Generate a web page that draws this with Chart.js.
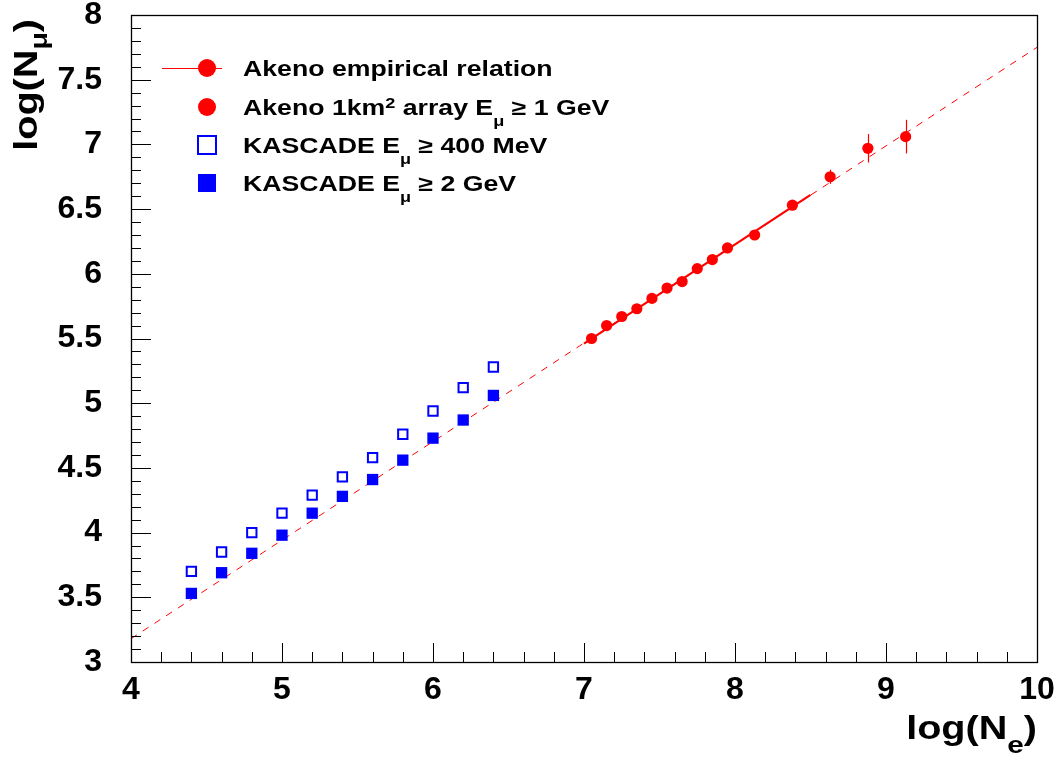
<!DOCTYPE html>
<html>
<head>
<meta charset="utf-8">
<script src="https://cdn.jsdelivr.net/npm/chart.js@4/dist/chart.umd.min.js"></script>
<style>
  html, body { margin: 0; padding: 0; background: #fff; }
</style>
</head>
<body>
<canvas id="muonChart" width="1059" height="761"></canvas>
<script>
// --- DATA ---
const fitLogNe = [4, 10];
const fitLogNmu = [3.18, 7.75];

const relLogNe = [7.0, 8.5];
const relLogNmu = [5.46, 6.61];

const akenoLogNe = [7.05, 7.15, 7.25, 7.35, 7.45, 7.55, 7.65, 7.75, 7.85, 7.95, 8.13, 8.38, 8.63, 8.88, 9.13];
const akenoLogNmu = [5.50, 5.60, 5.67, 5.73, 5.81, 5.89, 5.94, 6.04, 6.11, 6.20, 6.30, 6.53, 6.75, 6.97, 7.06];
const akenoErr = [0, 0, 0, 0, 0, 0, 0, 0, 0, 0, 0, 0, 0.055, 0.11, 0.13];

const kascadeLogNe = [4.4, 4.6, 4.8, 5.0, 5.2, 5.4, 5.6, 5.8, 6.0, 6.2, 6.4];
const kascade400MeV = [3.70, 3.85, 4.00, 4.15, 4.29, 4.43, 4.58, 4.76, 4.94, 5.12, 5.28];
const kascade2GeV = [3.53, 3.69, 3.84, 3.98, 4.15, 4.28, 4.41, 4.56, 4.73, 4.87, 5.06];

const legendRows = [
    [['Akeno empirical relation', '']],
    [['Akeno 1km', ''], ['2', 'sup'], [' array E', ''], ['\u03bc', 'sub'], [' \u2265 1 GeV', '']],
    [['KASCADE E', ''], ['\u03bc', 'sub'], [' \u2265 400 MeV', '']],
    [['KASCADE E', ''], ['\u03bc', 'sub'], [' \u2265 2 GeV', '']]
];
const xTitle = [['log(N', ''], ['e', 'sub'], [')', '']];
const yTitle = [['log(N', ''], ['\u03bc', 'sub'], [')', '']];

const RED = '#ff0000';
const BLUE = '#0000ff';
const FONT = '"Liberation Sans", Arial, Helvetica, sans-serif';

const zip = (xs, ys) => xs.map((x, i) => ({ x: x, y: ys[i] }));

// text with sub/superscripts, optionally stretched horizontally
function drawRich(ctx, parts, x, y, opt) {
    const size = opt.size;
    const items = parts.map(([t, k]) => {
        const s = k ? size * opt.small : size;
        ctx.font = 'bold ' + s + 'px ' + FONT;
        return { t: t, k: k, s: s, w: ctx.measureText(t).width };
    });
    const total = items.reduce((a, it) => a + it.w, 0);
    ctx.save();
    ctx.translate(x, y);
    ctx.scale(opt.stretch, 1);
    ctx.fillStyle = '#000';
    ctx.textBaseline = 'alphabetic';
    ctx.textAlign = 'left';
    let cx = opt.align === 'right' ? -total : 0;
    items.forEach(it => {
        ctx.font = 'bold ' + it.s + 'px ' + FONT;
        let dy = 0;
        if (it.k === 'sub') dy = opt.subDy;
        if (it.k === 'sup') dy = opt.supDy;
        ctx.fillText(it.t, cx, dy);
        cx += it.w;
    });
    ctx.restore();
}

const rootStyle = {
    id: 'rootStyle',
    afterDatasetsDraw(chart) {
        const ctx = chart.ctx;
        const xs = chart.scales.x, ys = chart.scales.y;
        ctx.save();
        ctx.strokeStyle = RED;
        ctx.lineWidth = 1.2;
        akenoLogNe.forEach((v, i) => {
            if (!akenoErr[i]) return;
            const px = Math.round(xs.getPixelForValue(v)) + 0.5;
            ctx.beginPath();
            ctx.moveTo(px, ys.getPixelForValue(akenoLogNmu[i] + akenoErr[i]));
            ctx.lineTo(px, ys.getPixelForValue(akenoLogNmu[i] - akenoErr[i]));
            ctx.stroke();
        });
        ctx.restore();
    },
    afterDraw(chart) {
        const ctx = chart.ctx;
        const a = chart.chartArea;
        const xs = chart.scales.x, ys = chart.scales.y;
        ctx.save();

        // frame
        ctx.strokeStyle = '#000';
        ctx.lineWidth = 1.3;
        ctx.strokeRect(Math.round(a.left) + 0.5, Math.round(a.top) + 0.5,
            Math.round(a.right - a.left), Math.round(a.bottom - a.top));

        // inward ticks
        ctx.lineWidth = 1;
        ctx.beginPath();
        for (let i = 0; i <= 30; i++) {
            const px = Math.round(xs.getPixelForValue(4 + i * 0.2)) + 0.5;
            const len = i % 5 === 0 ? 19 : 10;
            ctx.moveTo(px, a.bottom);
            ctx.lineTo(px, a.bottom - len);
        }
        for (let i = 0; i <= 50; i++) {
            const py = Math.round(ys.getPixelForValue(3 + i * 0.1)) + 0.5;
            const len = i % 5 === 0 ? 20 : 10;
            ctx.moveTo(a.left, py);
            ctx.lineTo(a.left + len, py);
        }
        ctx.stroke();

        // legend
        const rowY = [68, 107, 145, 183];
        const mx = 207;
        ctx.strokeStyle = RED;
        ctx.lineWidth = 1;
        ctx.beginPath();
        ctx.moveTo(162, rowY[0] + 0.5);
        ctx.lineTo(222, rowY[0] + 0.5);
        ctx.stroke();
        ctx.fillStyle = RED;
        [0, 1].forEach(r => {
            ctx.beginPath();
            ctx.arc(mx, rowY[r], 9, 0, Math.PI * 2);
            ctx.fill();
        });
        ctx.strokeStyle = BLUE;
        ctx.lineWidth = 2;
        ctx.strokeRect(mx - 9, rowY[2] - 9, 18, 18);
        ctx.fillStyle = BLUE;
        ctx.fillRect(mx - 9, rowY[3] - 9, 18, 18);

        legendRows.forEach((parts, r) => {
            drawRich(ctx, parts, 243, rowY[r] + 8, {
                size: 21.5, small: 0.68, subDy: 11, supDy: -7.5, stretch: 1.24, align: 'left'
            });
        });

        // axis titles
        drawRich(ctx, xTitle, 1037, 739, {
            size: 33, small: 0.75, subDy: 14, supDy: 0, stretch: 1.2, align: 'right'
        });
        ctx.save();
        ctx.translate(37, 19);
        ctx.rotate(-Math.PI / 2);
        drawRich(ctx, yTitle, 0, 0, {
            size: 33, small: 0.72, subDy: 10, supDy: 0, stretch: 1.2, align: 'right'
        });
        ctx.restore();

        ctx.restore();
    }
};

const ctx = document.getElementById('muonChart').getContext('2d');
const tickFont = { family: FONT, size: 32, weight: 'bold', lineHeight: 1 };

new Chart(ctx, {
    type: 'scatter',
    data: {
        datasets: [
            {
                label: 'fit',
                data: zip(fitLogNe, fitLogNmu),
                showLine: true, borderColor: RED, borderWidth: 1, borderDash: [7, 7],
                pointRadius: 0, order: 3
            },
            {
                label: 'Akeno empirical relation',
                data: zip(relLogNe, relLogNmu),
                showLine: true, borderColor: RED, borderWidth: 2.2,
                pointRadius: 0, order: 2
            },
            {
                label: 'Akeno 1km2 array',
                data: zip(akenoLogNe, akenoLogNmu),
                pointStyle: 'circle', pointRadius: 5.6, pointBorderWidth: 0,
                backgroundColor: RED, borderColor: RED, order: 1
            },
            {
                label: 'KASCADE 400 MeV',
                data: zip(kascadeLogNe, kascade400MeV),
                pointStyle: 'rect', pointRadius: 6.6, pointBorderWidth: 2,
                backgroundColor: '#ffffff', borderColor: BLUE, order: 1
            },
            {
                label: 'KASCADE 2 GeV',
                data: zip(kascadeLogNe, kascade2GeV),
                pointStyle: 'rect', pointRadius: 8, pointBorderWidth: 0,
                backgroundColor: BLUE, borderColor: BLUE, order: 1
            }
        ]
    },
    options: {
        responsive: false,
        animation: false,
        layout: { padding: { left: 0, right: 22, top: 15, bottom: 0 } },
        plugins: { legend: { display: false }, tooltip: { enabled: false } },
        scales: {
            x: {
                type: 'linear', min: 4, max: 10,
                grid: { display: false, drawTicks: false },
                border: { display: false },
                ticks: { stepSize: 1, font: tickFont, color: '#000', padding: 12, maxRotation: 0 },
                afterFit: s => { s.height = 99; s.paddingLeft = 0; s.paddingRight = 0; }
            },
            y: {
                type: 'linear', min: 3, max: 8,
                grid: { display: false, drawTicks: false },
                border: { display: false },
                ticks: {
                    stepSize: 0.5, font: tickFont, color: '#000', padding: 29,
                    callback: v => String(Math.round(v * 10) / 10)
                },
                afterFit: s => { s.width = 131; s.paddingTop = 0; s.paddingBottom = 0; }
            }
        }
    },
    plugins: [rootStyle]
});
</script>
</body>
</html>
